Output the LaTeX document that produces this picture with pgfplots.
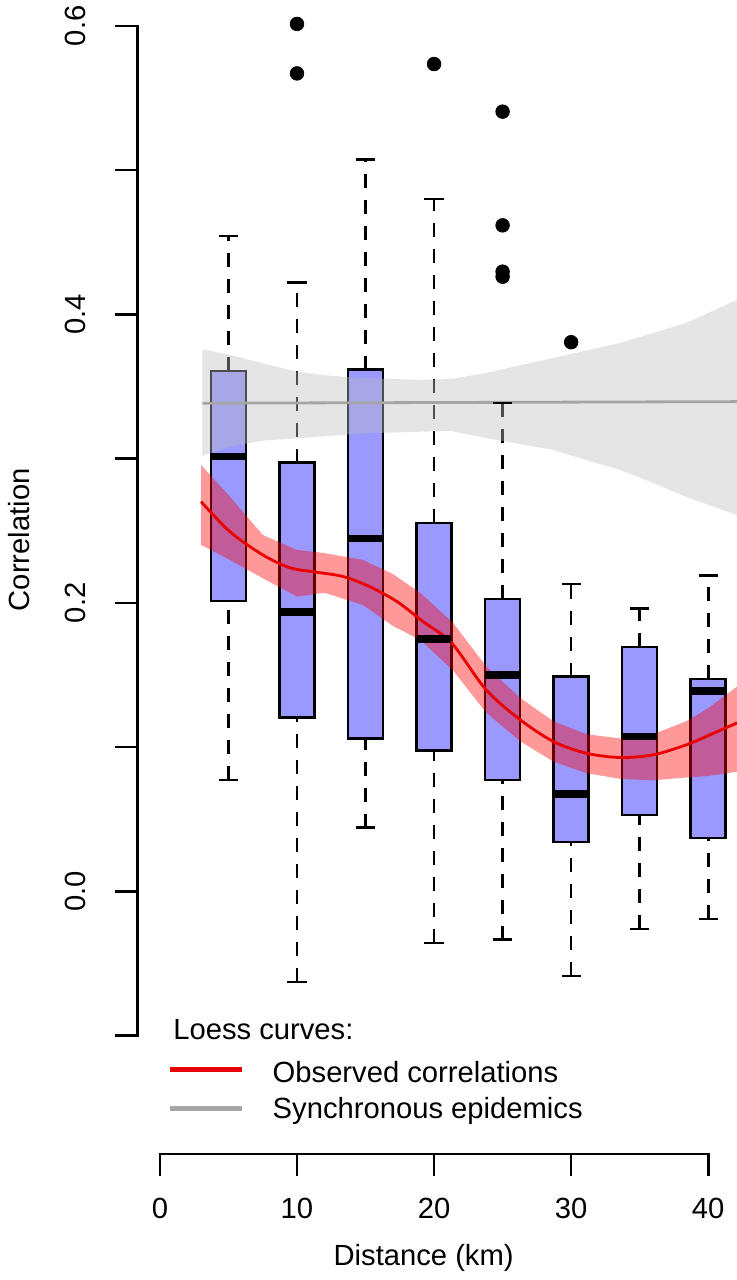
\documentclass[border=0pt]{standalone}
\usepackage{fontspec}
\setmainfont{Liberation Sans}
\usepackage{pgfplots}
\pgfplotsset{compat=1.18}

\definecolor{boxblue}{RGB}{153,153,255}
\definecolor{loessred}{RGB}{235,0,0}
\definecolor{bandgrey}{RGB}{190,190,190}
\definecolor{linegrey}{RGB}{165,165,165}

\newcommand{\fs}{\fontsize{14.6}{17}\selectfont}

% #1 left edge, #2 position, #3 right edge,
% #4 lower whisker, #5 lower quartile, #6 median, #7 upper quartile, #8 upper whisker
\newcommand{\rbox}[8]{%
  \addplot[black, line width=1.3pt, dash pattern=on 7pt off 6pt] coordinates {(#2,#4) (#2,#5)};
  \addplot[black, line width=1.3pt, dash pattern=on 7pt off 6pt] coordinates {(#2,#7) (#2,#8)};
  \addplot[only marks, mark=-, mark size=4.8pt, mark options={black, line width=1.3pt}] coordinates {(#2,#4) (#2,#8)};
  \addplot[fill=boxblue, draw=black, line width=1.3pt] coordinates {(#1,#5) (#3,#5) (#3,#7) (#1,#7)} --cycle;
  \addplot[only marks, mark=-, mark size=8.7pt, mark options={black, line width=3.7pt}] coordinates {(#2,#6)};
}

\begin{document}
\begin{tikzpicture}
\useasboundingbox (-68.85pt,-63pt) rectangle (299.65pt,577pt);
\begin{axis}[
  at={(0,0)}, anchor=south west,
  scale only axis, width=299.65pt, height=577pt,
  xmin=-1.62, xmax=42.1, ymin=-0.182, ymax=0.6179,
  clip=false,
  axis line style={draw=none},
  tick align=outside,
  xtick pos=bottom, ytick pos=left,
  major tick length=11.2pt,
  every tick/.style={black, line width=1.3pt},
  xtick={0,10,20,30,40},
  xticklabels={0,10,20,30,40},
  ytick={-0.1,0,0.1,0.2,0.3,0.4,0.5,0.6},
  yticklabels={{},0.0,{},0.2,{},0.4,{},0.6},
  tick label style={font=\fs},
  xticklabel style={anchor=base, yshift=-21pt},
  yticklabel style={rotate=90, anchor=south, yshift=11pt},
  /pgf/number format/assume math mode=true,
]
% boxplots
\rbox{3.725}{5}{6.275}{0.0773}{0.2014}{0.3014}{0.3608}{0.4543}
\rbox{8.725}{10}{11.275}{-0.0629}{0.1205}{0.1936}{0.2972}{0.4220}
\rbox{13.725}{15}{16.275}{0.0443}{0.1062}{0.2448}{0.3617}{0.5075}
\rbox{18.725}{20}{21.275}{-0.0358}{0.0976}{0.1750}{0.2554}{0.4800}
\rbox{23.725}{25}{26.275}{-0.0335}{0.0773}{0.1499}{0.2026}{0.3386}
\rbox{28.725}{30}{31.275}{-0.0585}{0.0344}{0.0674}{0.1489}{0.2132}
\rbox{33.725}{35}{36.275}{-0.0261}{0.0529}{0.1073}{0.1693}{0.1963}
\rbox{38.725}{40}{41.275}{-0.0192}{0.0369}{0.1390}{0.1473}{0.2189}

% outliers
\addplot[only marks, mark=*, mark size=3.4pt, black] coordinates {
  (10,0.6013) (10,0.5670) (20,0.5735) (25,0.5405) (25,0.4617)
  (25,0.4296) (25,0.4261) (30,0.3807)
};

% loess band, synchronous epidemics
\addplot[draw=none, fill=bandgrey, fill opacity=0.4] coordinates {
  (3.1,0.3758) (5.1,0.3719) (7.5,0.3661) (10,0.3603) (11.8,0.3580)
  (13.8,0.3564) (19,0.3545) (21.2,0.3552) (23.8,0.3594) (28.7,0.3698)
  (33.6,0.3802) (38.4,0.3941) (42.1,0.4100)
  (42.1,0.2609) (38.4,0.2734) (36,0.2831) (33.6,0.2921) (31.1,0.2990)
  (28.7,0.3060) (23.8,0.3143) (21.2,0.3192) (15,0.3176) (10,0.3141)
  (7.5,0.3125) (5.1,0.3083) (3.1,0.3019)
} --cycle;
\addplot[linegrey, line width=1.4pt] coordinates {(3.1,0.3384) (42.1,0.3395)};

% loess band, observed correlations
\addplot[draw=none, fill=red, fill opacity=0.4] coordinates {
  (3.0,0.2956) (5.1,0.2737) (7.5,0.2471) (10,0.2367) (12,0.2345)
  (14.8,0.2298) (17,0.2200) (19,0.2069) (21.4,0.1860) (23.8,0.1560)
  (26.3,0.1340) (28.7,0.1180) (31.1,0.1090) (33.6,0.1060) (36,0.1090)
  (38.4,0.1180) (40,0.1270) (42.1,0.1420)
  (42.1,0.0830) (40,0.0800) (38.4,0.0790) (36,0.0770) (33.6,0.0780)
  (31.1,0.0820) (28.7,0.0900) (26.3,0.1040) (23.8,0.1240) (21.4,0.1530)
  (19,0.1743) (17,0.1840) (14.8,0.1986) (12,0.2070) (10,0.2044)
  (7.5,0.2171) (5.1,0.2298) (3.0,0.2402)
} --cycle;
\addplot[loessred, line width=1.4pt, smooth] coordinates {
  (3.0,0.2702) (5.1,0.2494) (7.5,0.2333) (9.5,0.2243) (11.4,0.2213)
  (13.4,0.2182) (15.3,0.2113) (17.3,0.2009) (19.2,0.1870) (21.3,0.1720)
  (23.8,0.1397) (26.3,0.1189) (28.7,0.1039) (31.1,0.0958) (33.6,0.0928)
  (36,0.0947) (38.4,0.1016) (40,0.1080) (42.1,0.1168)
};

% legend
\addplot[loessred, line width=2.6pt] coordinates {(0.73,-0.1237) (6.0,-0.1237)};
\addplot[linegrey, line width=2.6pt] coordinates {(0.73,-0.1502) (6.0,-0.1502)};
\node[anchor=base west, inner sep=0pt, font=\fs] at (axis cs:0.95,-0.1028) {Loess curves:};
\node[anchor=base west, inner sep=0pt, font=\fs] at (axis cs:8.2,-0.1324) {Observed correlations};
\node[anchor=base west, inner sep=0pt, font=\fs] at (axis cs:8.2,-0.1576) {Synchronous epidemics};

% axis lines and labels
\draw[line width=1.3pt, line cap=rect] (axis cs:0,-0.182) -- (axis cs:40,-0.182);
\draw[line width=1.3pt, line cap=rect] (axis cs:-1.62,-0.1) -- (axis cs:-1.62,0.6);
\node[anchor=base, inner sep=0pt, font=\fs] at (axis cs:19.24,-0.259) {Distance (km)};
\node[rotate=90, anchor=base west, inner sep=0pt, font=\fs] at (axis cs:-9.49,0.194) {Correlation};
\end{axis}
\end{tikzpicture}
\end{document}
